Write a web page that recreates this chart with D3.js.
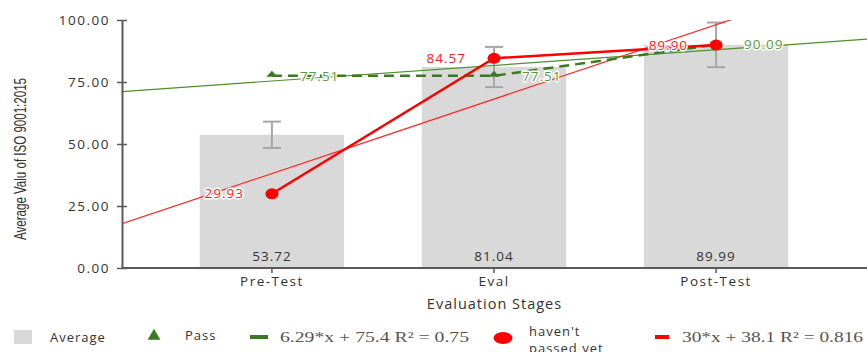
<!DOCTYPE html>
<html>
<meta charset="utf-8">
<style>
body { margin: 0; background: #fff; font-family: 'Open Sans', sans-serif; }
svg { display: block; }
.axis path, .axis line { stroke: #595959; }
.axis text { font-size: 13.5px; fill: #333; letter-spacing: 1.5px; font-family: 'Open Sans', sans-serif; }
text.val { font-size: 13.5px; letter-spacing: 1px; }
text.halo { paint-order: stroke; stroke: #fff; stroke-width: 3px; stroke-linejoin: round; }
text.leg { font-size: 13px; fill: #333; letter-spacing: 1px; }
text.eq { font-family: 'Liberation Serif', 'DejaVu Serif', serif; font-size: 15px; fill: #555; }
</style>
<body>
<svg width="867" height="352"></svg>
<script src="https://cdn.jsdelivr.net/npm/d3@7"></script>
<script>
// data
var stages = ["Pre-Test", "Eval", "Post-Test"];
var average = [53.72, 81.04, 89.99];
var avgError = [5.3, 8.1, 9.0];
var pass = [77.51, 77.51, 90.09];
var notPassed = [29.93, 84.57, 89.90];
var yTicks = [0, 25, 50, 75, 100];
// trend lines from the legend (x = 0,1,2 by stage)
var passTrend = [6.29, 75.4];
var notPassedTrend = [30, 38.1];

var svg = d3.select("svg");
var plotL = 122, plotR = 866, plotT = 20, plotB = 268;

var x = d3.scaleBand().domain(stages).range([plotL, plotR])
  .paddingInner(0.35).paddingOuter(0.35);
var y = d3.scaleLinear().domain([0, 100]).range([plotB, plotT]);
var cx = function(i) { return x(stages[i]) + x.bandwidth() / 2; };
// index position for a pixel, used by trend lines
var idx = d3.scaleLinear().domain([cx(0), cx(1)]).range([0, 1]);

svg.append("defs").append("clipPath").attr("id", "plot")
  .append("rect").attr("x", plotL).attr("y", plotT).attr("width", 867 - plotL).attr("height", plotB - plotT);

// bars
svg.append("g").selectAll("rect").data(average).enter().append("rect")
  .attr("x", function(d, i) { return x(stages[i]); })
  .attr("y", function(d) { return y(d); })
  .attr("width", x.bandwidth())
  .attr("height", function(d) { return plotB - y(d); })
  .attr("fill", "#d9d9d9");

// error bars
var eb = svg.append("g").attr("stroke", "#a6a6a6").attr("stroke-width", 2);
average.forEach(function(d, i) {
  var e = avgError[i];
  eb.append("line").attr("x1", cx(i)).attr("x2", cx(i)).attr("y1", y(d + e)).attr("y2", y(d - e));
  eb.append("line").attr("x1", cx(i) - 9).attr("x2", cx(i) + 9).attr("y1", y(d + e)).attr("y2", y(d + e));
  eb.append("line").attr("x1", cx(i) - 9).attr("x2", cx(i) + 9).attr("y1", y(d - e)).attr("y2", y(d - e));
});

// bar value labels
svg.append("g").selectAll("text").data(average).enter().append("text")
  .attr("class", "val")
  .attr("x", function(d, i) { return cx(i); })
  .attr("y", plotB - 7)
  .attr("text-anchor", "middle")
  .attr("fill", "#333")
  .text(function(d) { return d.toFixed(2); });

// trend lines
var trend = svg.append("g").attr("clip-path", "url(#plot)");
function trendLine(coef, color) {
  var pts = [plotL, 867].map(function(px) {
    return [px, y(coef[0] * idx(px) + coef[1])];
  });
  trend.append("path").attr("d", d3.line()(pts))
    .attr("fill", "none").attr("stroke", color).attr("stroke-width", 1.2);
}
trendLine(passTrend, "#4e8f2e");
trendLine(notPassedTrend, "#ff2a2a");

// axes
var yAxis = svg.append("g").attr("class", "axis")
  .attr("transform", "translate(" + plotL + ",0)")
  .call(d3.axisLeft(y).tickValues(yTicks).tickFormat(d3.format(".2f")).tickSizeOuter(0).tickSizeInner(5));
yAxis.select(".domain").attr("stroke-width", 2);
yAxis.selectAll(".tick line").attr("x1", -5).attr("x2", 5).attr("stroke-width", 1.5);
yAxis.selectAll(".tick text").attr("x", -12);

var xAxis = svg.append("g").attr("class", "axis")
  .attr("transform", "translate(0," + plotB + ")")
  .call(d3.axisBottom(x).tickSizeOuter(0).tickSizeInner(5));
xAxis.select(".domain").attr("d", "M" + plotL + ",0H867").attr("stroke-width", 2);
xAxis.selectAll(".tick line").attr("stroke-width", 1.5);
xAxis.selectAll(".tick text").attr("y", 8);

// pass series
svg.append("path")
  .attr("d", d3.line()(pass.map(function(d, i) { return [cx(i), y(d)]; })))
  .attr("fill", "none").attr("stroke", "#3b7a1e").attr("stroke-width", 2.5)
  .attr("stroke-dasharray", "10,6");
svg.append("g").selectAll("path").data(pass).enter().append("path")
  .attr("d", d3.symbol(d3.symbolTriangle, 45)())
  .attr("transform", function(d, i) { return "translate(" + cx(i) + "," + (y(d) - 1) + ") scale(1.1,0.7)"; })
  .attr("fill", "#3b7a1e");

// not passed series
svg.append("path")
  .attr("d", d3.line()(notPassed.map(function(d, i) { return [cx(i), y(d)]; })))
  .attr("fill", "none").attr("stroke", "#ff0000").attr("stroke-width", 2.5);
svg.append("g").selectAll("ellipse").data(notPassed).enter().append("ellipse")
  .attr("cx", function(d, i) { return cx(i); })
  .attr("cy", function(d) { return y(d); })
  .attr("rx", 6.5).attr("ry", 5.5)
  .attr("fill", "#ff0000");

// point labels
svg.append("g").selectAll("text").data(pass).enter().append("text")
  .attr("class", "val halo")
  .attr("x", function(d, i) { return cx(i) + 28; })
  .attr("y", function(d) { return y(d); })
  .attr("dy", "0.35em")
  .attr("fill", "#5a9a3a")
  .text(function(d) { return d.toFixed(2); });
svg.append("g").selectAll("text").data(notPassed).enter().append("text")
  .attr("class", "val halo")
  .attr("x", function(d, i) { return cx(i) - 28; })
  .attr("y", function(d) { return y(d); })
  .attr("dy", "0.35em")
  .attr("text-anchor", "end")
  .attr("fill", "#ff2020")
  .text(function(d) { return d.toFixed(2); });

// axis titles
svg.append("text")
  .attr("x", (plotL + 867) / 2).attr("y", 304).attr("dy", "0.35em")
  .attr("text-anchor", "middle")
  .attr("font-size", 14.5).attr("letter-spacing", "1px").attr("fill", "#333")
  .text("Evaluation Stages");
svg.append("text")
  .attr("transform", "translate(26,159) rotate(-90)")
  .attr("text-anchor", "middle")
  .attr("font-family", "'Liberation Sans Narrow', 'Liberation Sans', sans-serif")
  .attr("font-size", 16).attr("fill", "#333")
  .attr("textLength", 162).attr("lengthAdjust", "spacingAndGlyphs")
  .text("Average Valu of ISO 9001:2015");

// legend
var lg = svg.append("g");
var ly = 337;
lg.append("rect").attr("x", 14).attr("y", ly - 7).attr("width", 18).attr("height", 14).attr("fill", "#d9d9d9");
lg.append("text").attr("class", "leg").attr("x", 50).attr("y", ly).attr("dy", "0.35em").text("Average");
lg.append("path").attr("d", d3.symbol(d3.symbolTriangle, 70)())
  .attr("transform", "translate(154," + (ly - 1) + ")").attr("fill", "#3b7a1e");
lg.append("text").attr("class", "leg").attr("x", 185).attr("y", ly - 2).attr("dy", "0.35em").text("Pass");
lg.append("rect").attr("x", 250).attr("y", ly - 2).attr("width", 18).attr("height", 4).attr("fill", "#3b7a1e");
lg.append("text").attr("class", "eq").attr("x", 280).attr("y", ly).attr("dy", "0.35em")
  .attr("textLength", 189).attr("lengthAdjust", "spacingAndGlyphs")
  .text("6.29*x + 75.4 R\u00b2 = 0.75");
lg.append("ellipse").attr("cx", 503).attr("cy", ly + 1).attr("rx", 9.5).attr("ry", 6).attr("fill", "#ff0000");
lg.append("text").attr("class", "leg").attr("x", 529).attr("y", ly - 6).attr("dy", "0.35em").text("haven't");
lg.append("text").attr("class", "leg").attr("x", 529).attr("y", ly + 11).attr("dy", "0.35em").text("passed yet");
lg.append("rect").attr("x", 655).attr("y", ly - 2).attr("width", 14).attr("height", 4).attr("fill", "#ff0000");
lg.append("text").attr("class", "eq").attr("x", 682).attr("y", ly).attr("dy", "0.35em")
  .attr("textLength", 181).attr("lengthAdjust", "spacingAndGlyphs")
  .text("30*x + 38.1 R\u00b2 = 0.816");
</script>
</body>
</html>
